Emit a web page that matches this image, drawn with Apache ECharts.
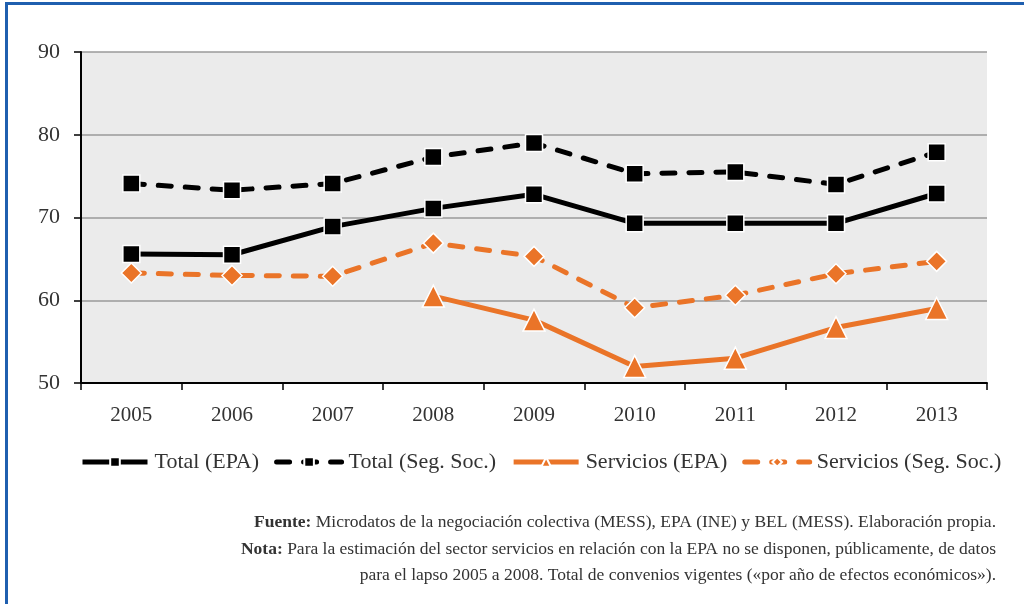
<!DOCTYPE html>
<html>
<head>
<meta charset="utf-8">
<style>
  html, body { margin: 0; padding: 0; background: #fff; }
  #chart { width: 1024px; height: 604px; }
</style>
<script src="https://cdn.jsdelivr.net/npm/echarts@6/dist/echarts.min.js"></script>
</head>
<body>
<div id="chart"></div>
<script>
// Years on the horizontal axis
const years = ['2005', '2006', '2007', '2008', '2009', '2010', '2011', '2012', '2013'];

// Coverage rates (%) per series
const totalEPA = [65.6, 65.5, 68.9, 71.1, 72.8, 69.3, 69.3, 69.3, 72.9];
const totalSegSoc = [74.1, 73.3, 74.1, 77.3, 79.0, 75.3, 75.5, 74.0, 77.9];
const serviciosEPA = [null, null, null, 60.5, 57.6, 52.0, 53.0, 56.7, 59.0];
const serviciosSegSoc = [63.3, 63.0, 62.9, 66.9, 65.3, 59.1, 60.6, 63.2, 64.7];

const seriesNames = ['Total (EPA)', 'Total (Seg. Soc.)', 'Servicios (EPA)', 'Servicios (Seg. Soc.)'];

// Value axis range
const yMin = 50, yMax = 90, yStep = 10;

const BLACK = '#000000';
const ORANGE = '#EA7428';
const SERIF = '"Liberation Serif", "DejaVu Serif", serif';
const NOTE_SIZE = 17.5;

const chart = echarts.init(document.getElementById('chart'));

function lineSeries(name, data, color, dashed, symbol, size) {
  return {
    name: name,
    type: 'line',
    data: data,
    symbol: symbol,
    symbolSize: size,
    connectNulls: false,
    lineStyle: {
      color: color,
      width: 5,
      type: dashed ? [13, 14] : 'solid',
      cap: dashed ? 'round' : 'butt',
      join: 'round'
    },
    itemStyle: {
      color: color,
      borderColor: '#ffffff',
      borderWidth: 1.5
    },
    emphasis: { disabled: true },
    z: 3
  };
}

const boldRich = { b: { fontWeight: 'bold', fontFamily: SERIF, fontSize: NOTE_SIZE, fill: '#333' } };

chart.setOption({
  animation: false,
  backgroundColor: '#ffffff',
  grid: {
    left: 81, right: 37, top: 52, bottom: 221,
    show: true,
    backgroundColor: '#ebebeb',
    borderWidth: 0
  },
  xAxis: {
    type: 'category',
    data: years,
    boundaryGap: true,
    axisLine: { show: true, lineStyle: { color: '#000', width: 2 } },
    axisTick: { show: true, length: 7, alignWithLabel: false, lineStyle: { color: '#000', width: 1.5 } },
    axisLabel: { color: '#333', fontFamily: SERIF, fontSize: 21, margin: 22 },
    splitLine: { show: false }
  },
  yAxis: {
    type: 'value',
    min: yMin, max: yMax, interval: yStep,
    axisLine: { show: true, lineStyle: { color: '#000', width: 2 } },
    axisTick: { show: true, length: 7, lineStyle: { color: '#000', width: 1.5 } },
    axisLabel: { color: '#333', fontFamily: SERIF, fontSize: 22, margin: 21 },
    splitLine: { show: true, lineStyle: { color: '#9a9a9a', width: 1.5 } }
  },
  legend: {
    data: seriesNames,
    left: 75,
    top: 446,
    itemWidth: 65,
    itemHeight: 12,
    itemGap: 15,
    textStyle: { color: '#333', fontFamily: SERIF, fontSize: 22, padding: [0, 0, 0, 2] },
    lineStyle: { width: 5 },
    selectedMode: false
  },
  series: [
    lineSeries(seriesNames[0], totalEPA, BLACK, false, 'rect', 17),
    lineSeries(seriesNames[1], totalSegSoc, BLACK, true, 'rect', 17),
    lineSeries(seriesNames[2], serviciosEPA, ORANGE, false, 'triangle', 22),
    lineSeries(seriesNames[3], serviciosSegSoc, ORANGE, true, 'diamond', 20)
  ],
  graphic: [
    // frame edges
    { type: 'rect', shape: { x: 5, y: 2, width: 1019, height: 3 }, style: { fill: '#1F5FAF' }, silent: true },
    { type: 'rect', shape: { x: 5, y: 2, width: 3, height: 602 }, style: { fill: '#1F5FAF' }, silent: true },
    // source and notes
    {
      type: 'text', right: 28, top: 513, silent: true,
      style: {
        text: '{b|Fuente:} Microdatos de la negociación colectiva (MESS), EPA (INE) y BEL (MESS). Elaboración propia.',
        rich: boldRich,
        font: NOTE_SIZE + 'px ' + SERIF, fill: '#333'
      }
    },
    {
      type: 'text', right: 28, top: 540, silent: true,
      style: {
        text: '{b|Nota:} Para la estimación del sector servicios en relación con la EPA no se disponen, públicamente, de datos',
        rich: boldRich,
        font: NOTE_SIZE + 'px ' + SERIF, fill: '#333'
      }
    },
    {
      type: 'text', right: 28, top: 566, silent: true,
      style: {
        text: 'para el lapso 2005 a 2008. Total de convenios vigentes («por año de efectos económicos»).',
        font: NOTE_SIZE + 'px ' + SERIF, fill: '#333'
      }
    }
  ]
});
</script>
</body>
</html>
